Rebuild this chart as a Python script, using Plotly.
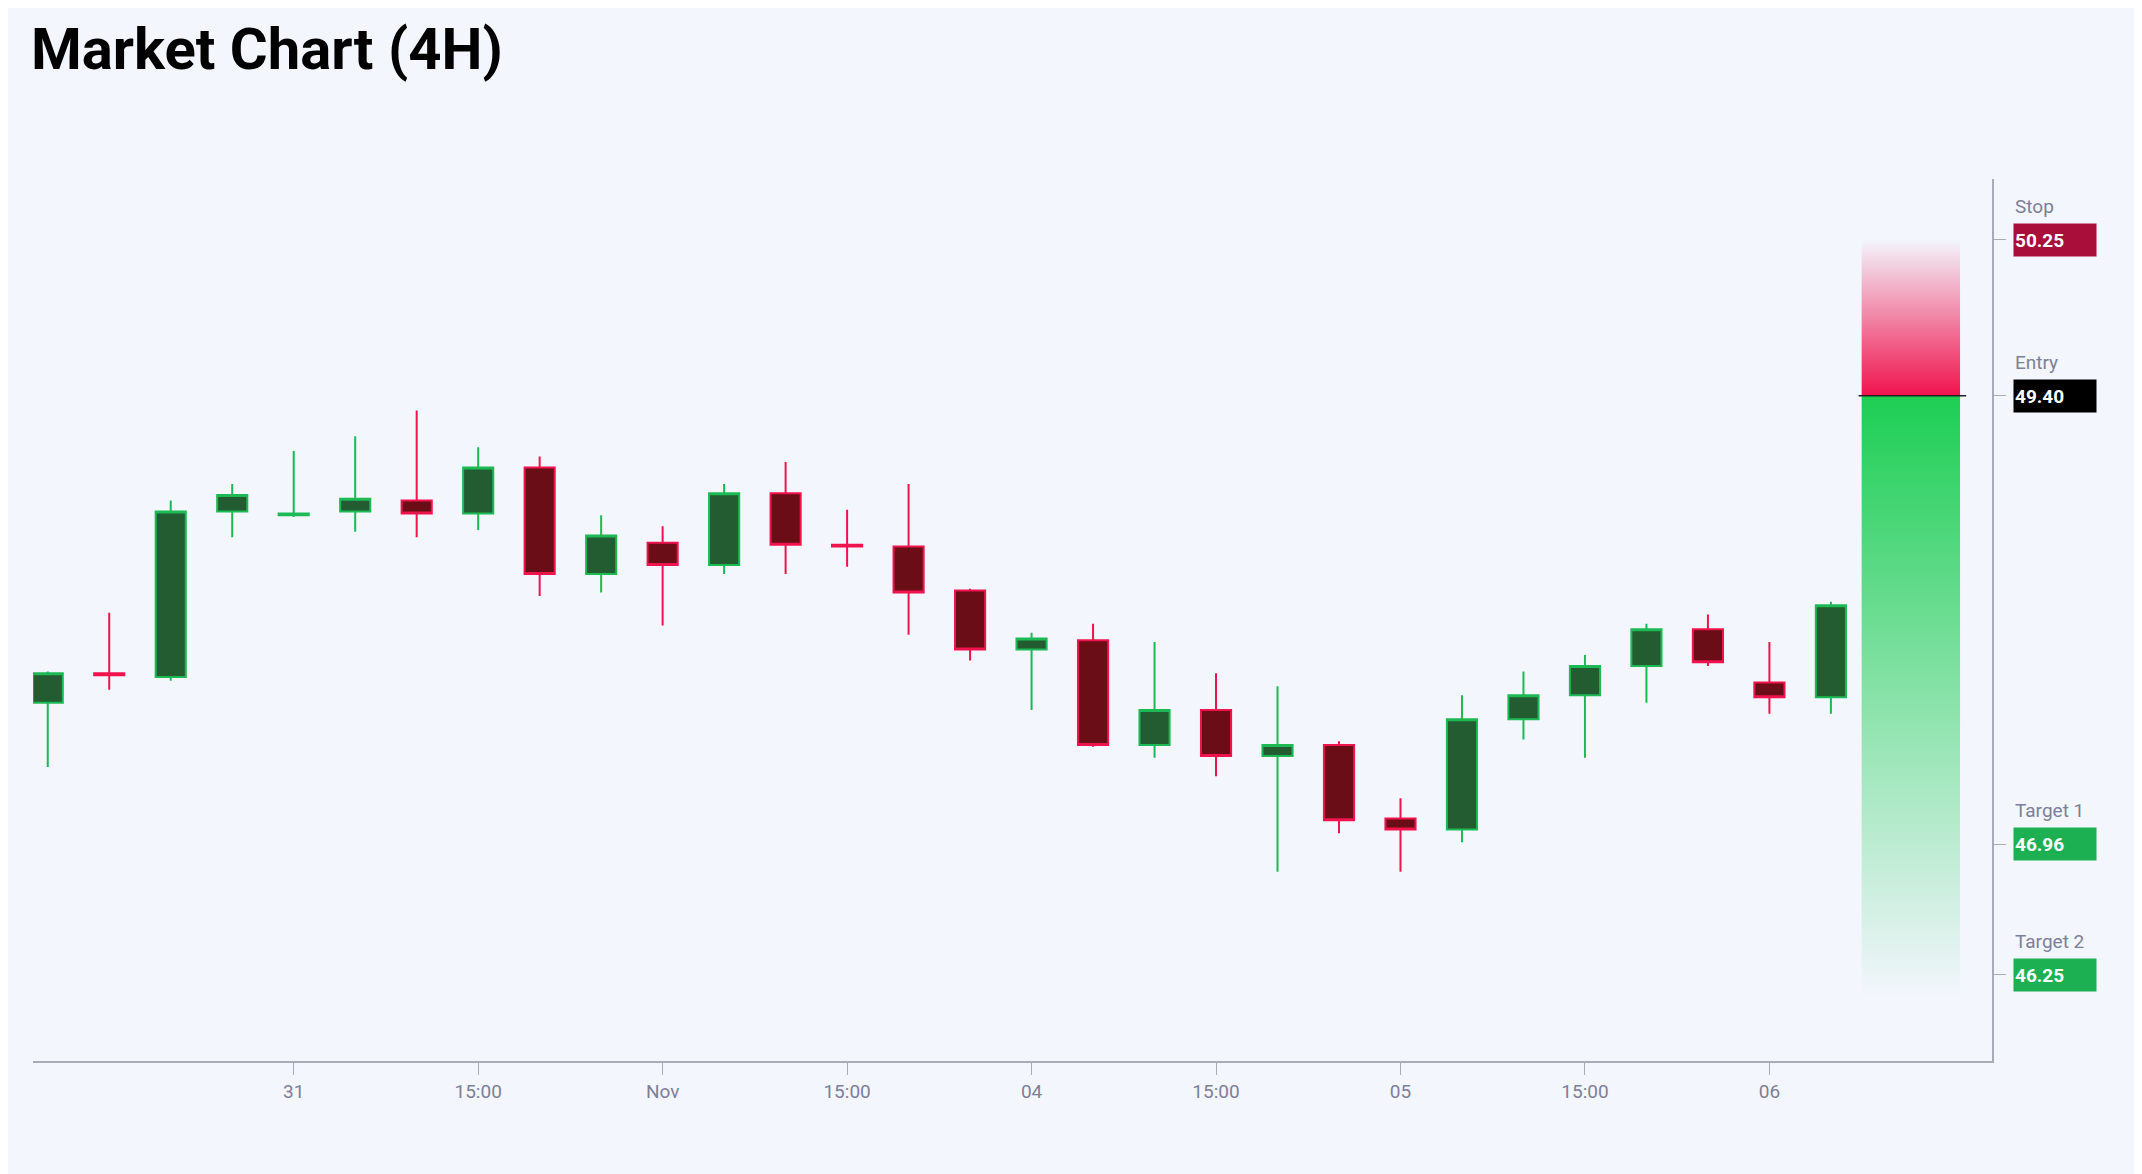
import plotly.graph_objects as go

# 4H candles
idx = list(range(30))
opens = [47.73, 47.89, 47.87, 48.77, 48.75, 48.77, 48.83, 48.76, 49.01, 48.43,
         48.60, 48.48, 48.87, 48.59, 48.58, 48.34, 48.02, 48.07, 47.50, 47.69,
         47.44, 47.50, 47.10, 47.04, 47.64, 47.77, 47.93, 48.13, 47.84, 47.76]
highs = [47.90, 48.22, 48.83, 48.92, 49.10, 49.18, 49.32, 49.12, 49.07, 48.75,
         48.69, 48.92, 49.04, 48.78, 48.92, 48.35, 48.11, 48.16, 48.06, 47.89,
         47.82, 47.52, 47.21, 47.77, 47.90, 47.99, 48.16, 48.21, 48.06, 48.28]
lows = [47.38, 47.80, 47.85, 48.63, 48.74, 48.66, 48.63, 48.67, 48.31, 48.33,
        48.15, 48.43, 48.43, 48.47, 48.10, 47.96, 47.69, 47.49, 47.43, 47.33,
        46.81, 47.02, 46.81, 46.97, 47.53, 47.43, 47.73, 47.93, 47.67, 47.67]
closes = [47.89, 47.88, 48.77, 48.86, 48.76, 48.84, 48.76, 49.01, 48.43, 48.64,
          48.48, 48.87, 48.59, 48.58, 48.33, 48.02, 48.08, 47.50, 47.69, 47.44,
          47.50, 47.09, 47.04, 47.64, 47.77, 47.93, 48.13, 47.95, 47.76, 48.26]

tick_pos = [4, 7, 10, 13, 16, 19, 22, 25, 28]
tick_text = ["31", "15:00", "Nov", "15:00", "04", "15:00", "05", "15:00", "06"]

level_names = ["Stop", "Entry", "Target 1", "Target 2"]
level_values = [50.25, 49.40, 46.96, 46.25]
level_colors = ["#A90D3A", "#000000", "#1DB053", "#1DB053"]

zone_x = [29.5, 31.1]
zone_bottom = 46.12

GREEN_LINE = "#1DB954"
GREEN_FILL = "#245C31"
RED_LINE = "#F0134D"
RED_FILL = "#6A0D16"
BG = "#F3F6FD"
GRAY = "#7C8098"

fig = go.Figure()

stop, entry = level_values[0], level_values[1]
x0, x1 = zone_x
# risk zone (red, fades upward)
fig.add_trace(go.Scatter(
    x=[x0, x1, x1, x0, x0], y=[entry, entry, stop, stop, entry],
    fill="toself", mode="lines", line=dict(width=0), hoverinfo="skip",
    fillgradient=dict(type="vertical", start=stop, stop=entry,
                      colorscale=[[0, "rgba(240,19,77,0.0)"], [1, "rgba(240,19,77,1)"]]),
    showlegend=False,
))
# reward zone (green, fades downward)
fig.add_trace(go.Scatter(
    x=[x0, x1, x1, x0, x0], y=[zone_bottom, zone_bottom, entry, entry, zone_bottom],
    fill="toself", mode="lines", line=dict(width=0), hoverinfo="skip",
    fillgradient=dict(type="vertical", start=entry, stop=zone_bottom,
                      colorscale=[[0, "rgba(29,206,84,1)"], [1, "rgba(29,206,84,0.0)"]]),
    showlegend=False,
))
fig.add_trace(go.Scatter(
    x=[29.45, 31.2], y=[entry, entry], mode="lines",
    line=dict(color="#222", width=1.5), hoverinfo="skip", showlegend=False,
))

fig.add_trace(go.Candlestick(
    x=idx, open=opens, high=highs, low=lows, close=closes,
    increasing=dict(line=dict(color=GREEN_LINE, width=2), fillcolor=GREEN_FILL),
    decreasing=dict(line=dict(color=RED_LINE, width=2), fillcolor=RED_FILL),
    whiskerwidth=0, showlegend=False,
))

for name, val, col in zip(level_names, level_values, level_colors):
    fig.add_annotation(x=1.0107, y=val, xref="paper", yref="y", xanchor="left",
                       yanchor="middle", text="<b>%.2f</b>" % val, showarrow=False,
                       bgcolor=col, width=80, height=30, align="left", borderpad=1,
                       font=dict(color="white", size=19, family="Roboto"))
    fig.add_annotation(x=1.0107, y=val, xref="paper", yref="y", xanchor="left",
                       yanchor="bottom", yshift=20, text=name, showarrow=False,
                       font=dict(color=GRAY, size=19, family="Roboto"))

fig.update_layout(
    width=2142, height=1174,
    paper_bgcolor=BG, plot_bgcolor=BG,
    margin=dict(l=25, r=158, t=171, b=121),
    title=dict(text="<b>Market Chart (4H)</b>", x=0.0107, xref="container",
               y=0.965, yanchor="middle",
               font=dict(size=58, color="#000", family="Roboto")),
    xaxis=dict(range=[-0.24, 31.62], tickvals=tick_pos, ticktext=tick_text,
               showgrid=False, zeroline=False, rangeslider=dict(visible=False),
               showline=True, linecolor="#A9ACB8", linewidth=1.5,
               ticks="outside", ticklen=12, tickcolor="#A9ACB8",
               tickfont=dict(size=19, color=GRAY, family="Roboto")),
    yaxis=dict(range=[45.78, 50.58], side="right", showgrid=False, zeroline=False,
               showline=True, linecolor="#A9ACB8", linewidth=1.5,
               tickvals=level_values, showticklabels=False,
               ticks="outside", ticklen=12, tickcolor="#A9ACB8"),
)

fig.write_html("out.html")
